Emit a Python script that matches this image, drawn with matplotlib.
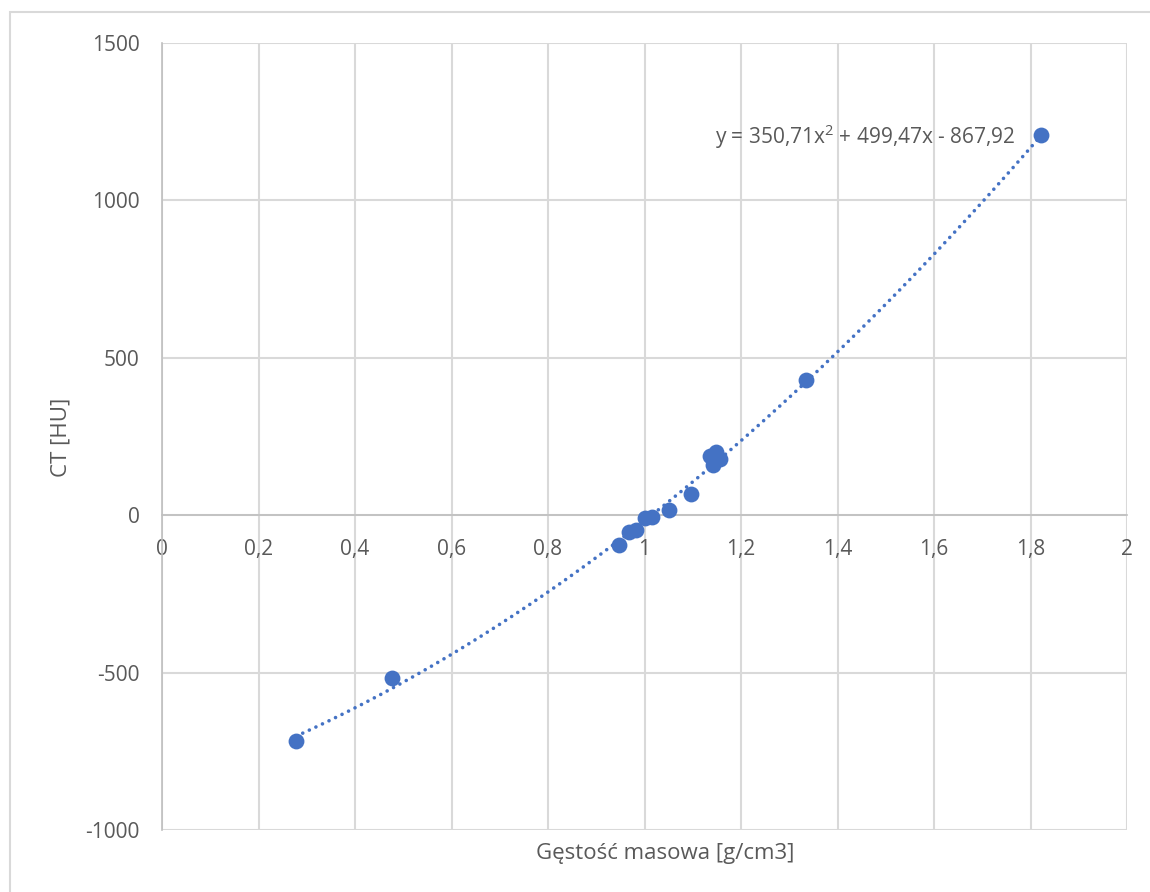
import numpy as np
import matplotlib.pyplot as plt
from matplotlib.patches import Rectangle

density = [0.278, 0.477, 0.947, 0.968, 0.982, 1.001, 1.016, 1.051, 1.096,
           1.136, 1.142, 1.148, 1.157, 1.335, 1.822]
ct_hu = [-717, -517, -95, -53, -48, -9, -6, 16, 67,
         188, 160, 201, 178, 430, 1208]
coef = [350.71, 499.47, -867.92]
equation = "y = 350,71x$^2$ + 499,47x - 867,92"
x_ticks = [0, 0.2, 0.4, 0.6, 0.8, 1, 1.2, 1.4, 1.6, 1.8, 2]
x_tick_labels = ["0", "0,2", "0,4", "0,6", "0,8", "1", "1,2", "1,4", "1,6", "1,8", "2"]
y_ticks = [-1000, -500, 0, 500, 1000, 1500]
y_tick_labels = ["-1000", "-500", "0", "500", "1000", "1500"]

plt.rcParams['font.family'] = ['Open Sans', 'DejaVu Sans']
plt.rcParams['mathtext.fontset'] = 'custom'
plt.rcParams['mathtext.rm'] = 'Open Sans'
W, H = 1150, 892
fig = plt.figure(figsize=(W / 100, H / 100), dpi=100)
ax = fig.add_axes([162 / W, 1 - 830 / H, (1127 - 162) / W, (830 - 43) / H])

# outer chart border
fig.patches.append(Rectangle((10 / W, -0.1), 1.2, 1 - 12 / H + 0.1, transform=fig.transFigure,
                             fill=False, edgecolor='#D9D9D9', linewidth=1.5))

grid_c = '#D9D9D9'
text_c = '#595959'
ax.set_xlim(0, 2)
ax.set_ylim(-1000, 1500)
ax.set_xticks(x_ticks)
ax.set_yticks(y_ticks)
ax.set_xticklabels(x_tick_labels)
ax.set_yticklabels(y_tick_labels)
ax.grid(True, color=grid_c, linewidth=1.5)
ax.set_axisbelow(True)
for s in ['top', 'right']:
    ax.spines[s].set_visible(False)
ax.spines['left'].set_color('#BFBFBF')
ax.spines['left'].set_linewidth(1.2)
ax.spines['bottom'].set_position(('data', 0))
ax.spines['bottom'].set_color('#BFBFBF')
ax.spines['bottom'].set_linewidth(1.2)
ax.tick_params(axis='both', length=0, labelsize=15, labelcolor=text_c)
ax.tick_params(axis='y', pad=16)
ax.tick_params(axis='x', pad=17)

xs = np.linspace(min(density), max(density), 400)
ys = np.polyval(coef, xs)
ax.plot(xs, ys, linestyle=(0, (0.01, 2.0)), color='#4472C4', linewidth=2.6,
        dash_capstyle='round', solid_capstyle='round', zorder=2)
ax.scatter(density, ct_hu, s=130, color='#4472C4', zorder=3, linewidths=0)

ax.text(1.770, 1201, equation, ha='right', va='center', fontsize=15, color=text_c)

fig.text(61 / W, 1 - 437 / H, "CT [HU]", rotation=90, ha='center', va='center', fontsize=16, color=text_c)
fig.text(665 / W, 1 - 853 / H, "Gęstość masowa [g/cm3]", ha='center', va='center', fontsize=16, color=text_c)

fig.savefig('out.png', dpi=100, facecolor='white')
